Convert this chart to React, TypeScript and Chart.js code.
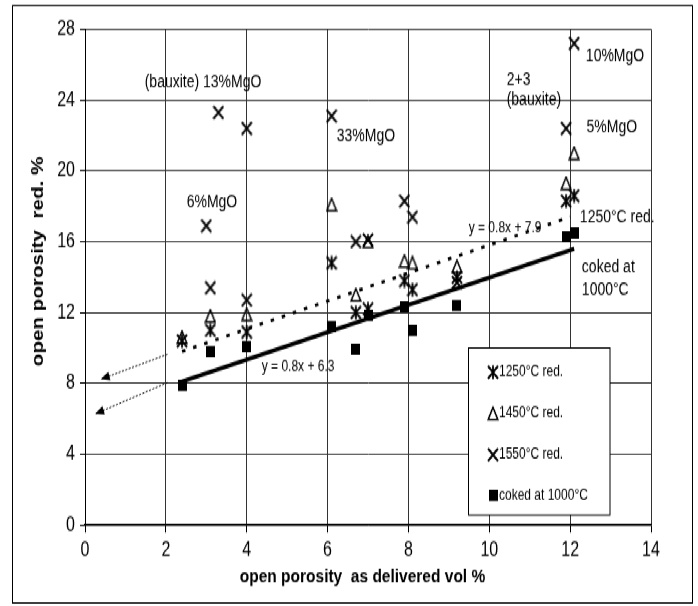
import React, { useEffect, useRef } from 'react';
import { Chart, registerables } from 'chart.js';

Chart.register(...registerables);

// canvas logical size; the original picture is stretched vertically
const W = 698;
const H = 485;
const STRETCH = 606 / H;
const FONT = "'Liberation Sans', Arial, sans-serif";

// ---- data ----
const x1250 = [2.4, 3.1, 4.0, 6.1, 6.7, 7.0, 7.9, 8.1, 9.2, 11.9, 12.1];
const y1250 = [10.4, 11.0, 10.9, 14.8, 12.0, 12.2, 13.8, 13.3, 14.0, 18.3, 18.6];

const x1450 = [2.4, 3.1, 4.0, 6.1, 6.7, 7.0, 7.9, 8.1, 9.2, 11.9, 12.1];
const y1450 = [10.6, 11.8, 11.9, 18.1, 13.0, 16.0, 14.9, 14.8, 14.6, 19.3, 21.0];

const x1550 = [3.0, 3.1, 3.3, 4.0, 4.0, 6.1, 6.7, 7.0, 7.9, 8.1, 9.2, 11.9, 12.1];
const y1550 = [16.9, 13.4, 23.3, 12.7, 22.4, 23.1, 16.0, 16.1, 18.3, 17.4, 13.7, 22.4, 27.2];

const xCoked = [2.4, 3.1, 4.0, 6.1, 6.7, 7.0, 7.9, 8.1, 9.2, 11.9, 12.1];
const yCoked = [7.9, 9.8, 10.1, 11.2, 9.9, 11.8, 12.3, 11.0, 12.4, 16.3, 16.5];

// trend lines (end points)
const trend1250X = [2.4, 12.0];
const trend1250Y = [9.8, 17.4];
const trendCokedX = [2.4, 12.1];
const trendCokedY = [8.1, 15.6];

// extrapolation arrows (start, tip)
const arrowUpperX = [2.04, 0.39];
const arrowUpperY = [9.64, 8.23];
const arrowLowerX = [2.04, 0.25];
const arrowLowerY = [8.04, 6.27];

const seriesLabels = ['1250°C red.', '1450°C red.', '1550°C red.', 'coked at 1000°C'];

// axis
const X_MIN = 0, X_MAX = 14, X_STEP = 2;
const Y_MIN = 0, Y_MAX = 28, Y_STEP = 4;
const xTitle = 'open porosity  as delivered vol %';
const yTitle = 'open porosity  red. %';

// text notes anchored in data coordinates
const noteTexts = ['(bauxite) 13%MgO', '33%MgO', '6%MgO', '10%MgO', '2+3', '(bauxite)', '5%MgO', '1250°C red.', 'coked at', '1000°C', 'y = 0.8x + 7.9', 'y = 0.8x + 6.3'];
const noteX = [2.92, 6.95, 3.14, 13.11, 10.43, 10.43, 13.03, 12.24, 12.29, 12.29, 10.39, 5.27];
const noteY = [24.96, 21.97, 18.18, 26.48, 25.13, 24.0, 22.42, 17.33, 14.57, 13.27, 16.77, 8.94];
const noteAlign = ['center', 'center', 'center', 'center', 'left', 'left', 'center', 'left', 'left', 'left', 'center', 'center'];
const noteSize = [14, 14, 14, 14, 14, 14, 14, 14, 14, 14, 12, 12];

function pts(xs: number[], ys: number[]) {
  return xs.map((x, i) => ({ x, y: ys[i] }));
}

function makeMarker(kind: string): HTMLCanvasElement {
  const c = document.createElement('canvas');
  const s = kind === 'square' ? 9 : 12;
  c.width = s;
  c.height = s;
  const g = c.getContext('2d')!;
  g.strokeStyle = '#000';
  g.fillStyle = '#000';
  g.lineWidth = 1.8;
  if (kind === 'x' || kind === 'star') {
    g.beginPath();
    g.moveTo(1, 1); g.lineTo(11, 11);
    g.moveTo(11, 1); g.lineTo(1, 11);
    if (kind === 'star') { g.moveTo(6, 0.5); g.lineTo(6, 11.5); }
    g.stroke();
  } else if (kind === 'triangle') {
    g.lineWidth = 1.5;
    g.beginPath();
    g.moveTo(6, 1); g.lineTo(10.8, 10.8); g.lineTo(1.2, 10.8); g.closePath();
    g.stroke();
  } else {
    g.fillRect(0, 0, s, s);
  }
  return c;
}

export default function App() {
  const ref = useRef<HTMLCanvasElement>(null);

  useEffect(() => {
    const canvas = ref.current!;
    const mStar = makeMarker('star');
    const mTri = makeMarker('triangle');
    const mX = makeMarker('x');
    const mSq = makeMarker('square');

    const plotBottom = 525 / STRETCH;
    const plotTop = 29.3 / STRETCH;

    const overlay = {
      id: 'overlay',
      beforeDraw(chart: any) {
        const { ctx } = chart;
        ctx.save();
        ctx.fillStyle = '#fff';
        ctx.fillRect(0, 0, W, H);
        ctx.restore();
      },
      afterDatasetsDraw(chart: any) {
        const { ctx } = chart;
        chart.data.datasets.forEach((ds: any, i: number) => {
          if (!ds.arrow) return;
          const meta = chart.getDatasetMeta(i);
          const n = meta.data.length;
          const a = meta.data[n - 2];
          const b = meta.data[n - 1];
          const ang = Math.atan2(b.y - a.y, b.x - a.x);
          const len = 9, hw = 3.6;
          ctx.save();
          ctx.translate(b.x, b.y);
          ctx.rotate(ang);
          ctx.fillStyle = '#000';
          ctx.beginPath();
          ctx.moveTo(0, 0);
          ctx.lineTo(-len, -hw);
          ctx.lineTo(-len, hw);
          ctx.closePath();
          ctx.fill();
          ctx.restore();
        });
      },
      afterDraw(chart: any) {
        const { ctx } = chart;
        const xs = chart.scales.x;
        const ys = chart.scales.y;
        ctx.save();
        ctx.fillStyle = '#000';
        ctx.textBaseline = 'middle';
        // notes
        noteTexts.forEach((t, i) => {
          ctx.font = `${noteSize[i]}px ${FONT}`;
          ctx.textAlign = noteAlign[i] as CanvasTextAlign;
          ctx.fillText(t, xs.getPixelForValue(noteX[i]), ys.getPixelForValue(noteY[i]));
        });
        // axis titles
        ctx.font = `bold 15.5px ${FONT}`;
        ctx.textAlign = 'center';
        ctx.fillText(xTitle, 362.5, 577 / STRETCH);
        ctx.save();
        ctx.translate(38, 261.5 / STRETCH);
        ctx.rotate(-Math.PI / 2);
        ctx.font = `bold 16.5px ${FONT}`;
        ctx.fillText(yTitle, 0, 0);
        ctx.restore();
        // legend box
        const lx = 468.5, ly = 348 / STRETCH, lw = 141.5, lh = (515 - 348) / STRETCH;
        ctx.fillStyle = '#fff';
        ctx.fillRect(lx, ly, lw, lh);
        ctx.strokeStyle = '#000';
        ctx.lineWidth = 1;
        ctx.strokeRect(lx, ly, lw, lh);
        ctx.fillStyle = '#000';
        ctx.font = `12px ${FONT}`;
        ctx.textAlign = 'left';
        const legendDs = chart.data.datasets
          .filter((d: any) => d.legendIdx !== undefined)
          .sort((a: any, b: any) => a.legendIdx - b.legendIdx);
        legendDs.forEach((d: any, i: number) => {
          const cy = 297.6 + i * 33;
          const m = d.pointStyle as HTMLCanvasElement;
          ctx.drawImage(m, Math.round(493 - m.width / 2), Math.round(cy - m.height / 2));
          ctx.fillText(d.label, 499, cy);
        });
        // outer frame
        ctx.strokeRect(12.5, 4.5, 680, 478);
        ctx.restore();
      },
    };

    const chart = new Chart(canvas, {
      type: 'scatter',
      data: {
        datasets: [
          {
            label: seriesLabels[3], data: pts(xCoked, yCoked), pointStyle: mSq as any,
            pointRadius: 5, order: 0, legendIdx: 3,
          } as any,
          {
            label: seriesLabels[2], data: pts(x1550, y1550), pointStyle: mX as any,
            pointRadius: 5, order: 1, legendIdx: 2,
          } as any,
          {
            label: seriesLabels[1], data: pts(x1450, y1450), pointStyle: mTri as any,
            pointRadius: 5, order: 2, legendIdx: 1,
          } as any,
          {
            label: seriesLabels[0], data: pts(x1250, y1250), pointStyle: mStar as any,
            pointRadius: 5, order: 3, legendIdx: 0,
          } as any,
          {
            label: 'trend coked', data: pts(trendCokedX, trendCokedY), showLine: true,
            borderColor: '#000', borderWidth: 3.2, pointRadius: 0, order: 5,
          } as any,
          {
            label: 'trend 1250', data: pts(trend1250X, trend1250Y), showLine: true,
            borderColor: '#000', borderWidth: 2.6, borderDash: [3.5, 8], pointRadius: 0, order: 5,
          } as any,
          {
            label: 'arrow upper', data: pts(arrowUpperX, arrowUpperY), showLine: true, arrow: true,
            borderColor: '#000', borderWidth: 0.9, borderDash: [2, 1.5], pointRadius: 0, order: 6,
          } as any,
          {
            label: 'arrow lower', data: pts(arrowLowerX, arrowLowerY), showLine: true, arrow: true,
            borderColor: '#000', borderWidth: 0.9, borderDash: [2, 1.5], pointRadius: 0, order: 6,
          } as any,
        ],
      },
      options: {
        responsive: false,
        maintainAspectRatio: false,
        devicePixelRatio: 1,
        animation: false,
        events: [],
        layout: { padding: { left: 0, right: W - 651, top: plotTop, bottom: 0 } },
        plugins: { legend: { display: false }, tooltip: { enabled: false } },
        scales: {
          x: {
            type: 'linear', min: X_MIN, max: X_MAX,
            ticks: { stepSize: X_STEP, color: '#000', padding: 5, font: { family: FONT, size: 16 } },
            grid: { color: '#333', lineWidth: 1, tickLength: 6, tickColor: '#000' },
            border: { color: '#000', width: 1.5 },
            afterFit: (s: any) => { s.height = H - plotBottom; },
          },
          y: {
            type: 'linear', min: Y_MIN, max: Y_MAX,
            ticks: { stepSize: Y_STEP, color: '#000', padding: 5, font: { family: FONT, size: 16 } },
            grid: { color: '#333', lineWidth: 1, tickLength: 5, tickColor: '#000' },
            border: { color: '#000', width: 1 },
            afterFit: (s: any) => { s.width = 85; },
          },
        },
      },
      plugins: [overlay],
    });
    return () => chart.destroy();
  }, []);

  return (
    <div
      style={{
        position: 'absolute', left: 0, top: 0, width: W, height: H,
        transform: `scaleY(${STRETCH})`, transformOrigin: '0 0', background: '#fff',
      }}
    >
      <canvas ref={ref} width={W} height={H} style={{ display: 'block', width: W, height: H }} />
    </div>
  );
}
